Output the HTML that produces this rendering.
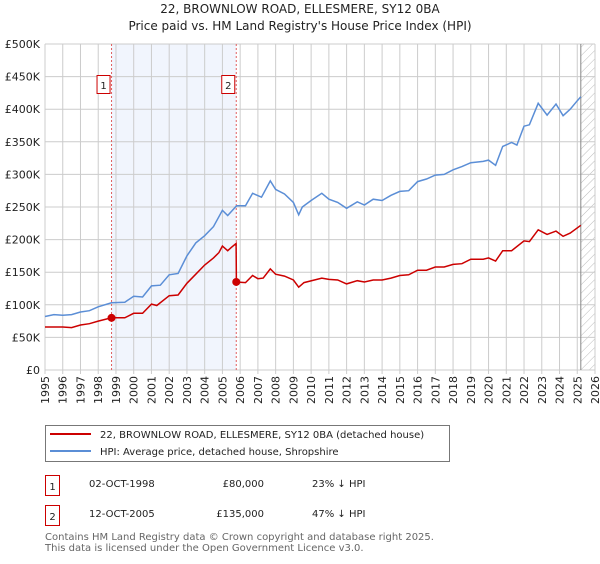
<!DOCTYPE html>
<html><head><meta charset="utf-8"><style>
body{margin:0;width:600px;height:560px;background:#fff;font-family:"DejaVu Sans","Liberation Sans",sans-serif;overflow:hidden}
svg text{font-family:"DejaVu Sans","Liberation Sans",sans-serif}
</style></head><body>
<svg width="600" height="560" xmlns="http://www.w3.org/2000/svg">
<defs><pattern id="hatch" width="6" height="6" patternUnits="userSpaceOnUse" patternTransform="rotate(45)"><line x1="0" y1="0" x2="0" y2="6" stroke="#bbb" stroke-width="1"/></pattern></defs>
<text x="300" y="13" text-anchor="middle" font-size="12" fill="#222">22, BROWNLOW ROAD, ELLESMERE, SY12 0BA</text>
<text x="300" y="30" text-anchor="middle" font-size="12" fill="#222">Price paid vs. HM Land Registry's House Price Index (HPI)</text>
<g id="plot"></g>
<g>
<rect x="45.5" y="425.5" width="404" height="36" fill="#fff" stroke="#777"/>
<line x1="50" y1="434" x2="91" y2="434" stroke="#cc0000" stroke-width="2"/>
<text x="100" y="438" font-size="10" fill="#222">22, BROWNLOW ROAD, ELLESMERE, SY12 0BA (detached house)</text>
<line x1="50" y1="451" x2="91" y2="451" stroke="#5b8ed6" stroke-width="2"/>
<text x="100" y="455" font-size="10" fill="#222">HPI: Average price, detached house, Shropshire</text>
</g>
<g font-size="10" fill="#222">
<rect x="45.5" y="475.5" width="14" height="20" fill="none" stroke="#cc0000"/><text x="52.5" y="490" text-anchor="middle">1</text>
<text x="89" y="487">02-OCT-1998</text><text x="264" y="487" text-anchor="end">£80,000</text><text x="312" y="487">23% ↓ HPI</text>
<rect x="45.5" y="505.5" width="14" height="20" fill="none" stroke="#cc0000"/><text x="52.5" y="520" text-anchor="middle">2</text>
<text x="89" y="517">12-OCT-2005</text><text x="264" y="517" text-anchor="end">£135,000</text><text x="312" y="517">47% ↓ HPI</text>
</g>
<text x="45" y="540" font-size="10" fill="#666">Contains HM Land Registry data © Crown copyright and database right 2025.</text>
<text x="45" y="551" font-size="10" fill="#666">This data is licensed under the Open Government Licence v3.0.</text>
</svg>
<script>
const hpiYears=[1995,1995.5,1996,1996.5,1997,1997.5,1998,1998.75,1999.5,2000,2000.5,2001,2001.5,2002,2002.5,2003,2003.5,2004,2004.5,2005,2005.3,2005.8,2006.3,2006.7,2007.2,2007.7,2008,2008.5,2009,2009.3,2009.5,2010,2010.6,2011,2011.5,2012,2012.6,2013,2013.5,2014,2014.5,2015,2015.5,2016,2016.5,2017,2017.5,2018,2018.5,2019,2019.7,2020,2020.4,2020.8,2021.3,2021.6,2022,2022.3,2022.8,2023.3,2023.8,2024.2,2024.6,2025,2025.2];
const hpiValues=[82,85,84,85,89,91,97,103,104,113,112,129,130,146,148,175,195,206,220,245,237,252,252,271,265,290,277,270,257,238,250,260,271,262,257,248,258,253,262,260,268,274,275,289,293,299,300,307,312,318,320,322,314,343,349,345,374,376,409,391,408,390,400,413,419];
const propYears=[1995,1996,1996.5,1997,1997.5,1998,1998.75,1999.5,2000,2000.5,2001,2001.3,2002,2002.5,2003,2003.5,2004,2004.5,2004.8,2005,2005.3,2005.5,2005.77,2005.79,2006.3,2006.7,2007,2007.3,2007.7,2008,2008.5,2009,2009.3,2009.6,2010.6,2011,2011.5,2012,2012.6,2013,2013.5,2014,2014.5,2015,2015.5,2016,2016.5,2017,2017.5,2018,2018.5,2019,2019.7,2020,2020.4,2020.8,2021.3,2022,2022.3,2022.8,2023.3,2023.8,2024.2,2024.6,2025.2];
const propValues=[66,66,65,69,71,75,80,80,87,87,101,99,114,115,133,147,161,172,180,190,183,188,194,135,134,145,140,141,155,147,144,138,127,134,141,139,138,132,137,135,138,138,141,145,146,153,153,158,158,162,163,170,170,172,167,183,183,198,197,215,208,213,205,210,222];
const saleYears=[1998.75,2005.78];
const saleValues=[80,135];
const yTicks=[0,50,100,150,200,250,300,350,400,450,500];
const xTicks=[1995,1996,1997,1998,1999,2000,2001,2002,2003,2004,2005,2006,2007,2008,2009,2010,2011,2012,2013,2014,2015,2016,2017,2018,2019,2020,2021,2022,2023,2024,2025,2026];
const X0=45,X1=595,Y0=370,Y1=44;
const sx=y=>X0+(y-1995)/(2026-1995)*(X1-X0);
const sy=v=>Y0-v/500*(Y0-Y1);
const NS="http://www.w3.org/2000/svg";
const g=document.getElementById('plot');
function mk(t,a){const e=document.createElementNS(NS,t);for(const k in a)e.setAttribute(k,a[k]);g.appendChild(e);return e;}
let e=mk('rect',{x:sx(saleYears[0]),y:Y1,width:sx(saleYears[1])-sx(saleYears[0]),height:Y0-Y1,fill:'#eef3fc',opacity:0.8});


e=mk('rect',{x:sx(2025.2),y:Y1,width:X1-sx(2025.2),height:Y0-Y1,fill:'url(#hatch)'});


yTicks.forEach(v=>{
 const l=mk('line',{x1:X0,x2:X1,y1:sy(v),y2:sy(v),stroke:'#ccc','stroke-width':1});
 
 
 const t=mk('text',{x:X0-5,y:sy(v)+4,'text-anchor':'end','font-size':11,fill:'#222'});
 t.textContent=v===0?'£0':'£'+v+'K';
 
 
});
xTicks.forEach(y=>{
 const l=mk('line',{x1:sx(y),x2:sx(y),y1:Y1,y2:Y0+4,stroke:'#ccc','stroke-width':1});
 
 
 const t=mk('text',{x:0,y:0,'text-anchor':'end','font-size':11,fill:'#222',transform:`translate(${sx(y)+4},${Y0+6}) rotate(-90)`});
 t.textContent=y;
 
 
});
e=mk('line',{x1:sx(2025.2),x2:sx(2025.2),y1:Y1,y2:Y0,stroke:'#888','stroke-width':1});


saleYears.forEach((y,i)=>{
 const l=mk('line',{x1:sx(y),x2:sx(y),y1:Y1,y2:Y0,stroke:'#e06060','stroke-dasharray':'2,2','stroke-width':1});
 
 
 const r=mk('rect',{x:sx(y)-14.5,y:75.5,width:13,height:18,fill:'#fff',stroke:'#cc0000'});
 
 
 const t=mk('text',{x:sx(y)-8,y:89,'text-anchor':'middle','font-size':10,fill:'#222'});
 t.textContent=String(i+1);
 
 
});
function path(xs,vs){return xs.map((y,i)=>(i?'L':'M')+sx(y).toFixed(1)+','+sy(vs[i]).toFixed(1)).join('');}
e=mk('path',{d:path(hpiYears,hpiValues),fill:'none',stroke:'#5b8ed6','stroke-width':1.5});


e=mk('path',{d:path(propYears,propValues),fill:'none',stroke:'#cc0000','stroke-width':1.5});


saleYears.forEach((y,i)=>{
 const c=mk('circle',{cx:sx(y),cy:sy(saleValues[i]),r:4,fill:'#cc0000'});
 
 
});
</script>
</body></html>
